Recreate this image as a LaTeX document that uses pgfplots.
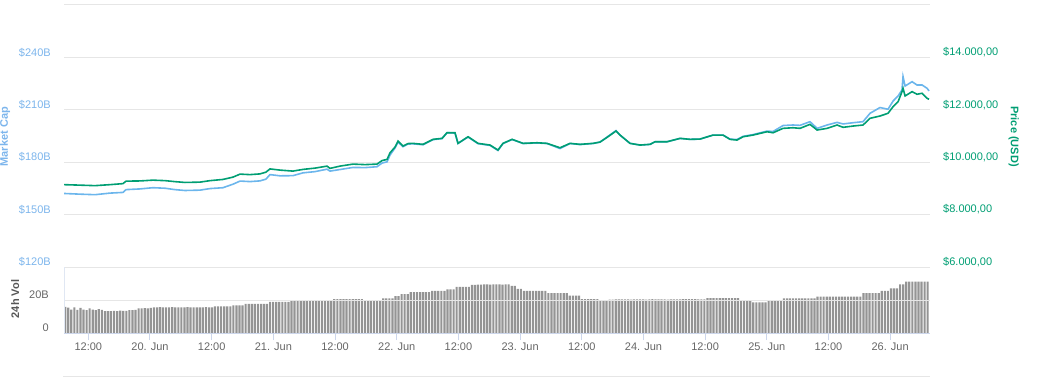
\documentclass[border=0pt]{standalone}
\usepackage{pgfplots}
\pgfplotsset{compat=1.18}
\usepackage{pgfplotstable}
\usepackage{fontspec}
\setmainfont{Liberation Sans}
\definecolor{mcblue}{HTML}{6CB6EC}
\definecolor{mclabel}{HTML}{7CB5EC}
\definecolor{pgreen}{HTML}{009E73}
\definecolor{gridc}{HTML}{E6E6E6}
\definecolor{tickc}{HTML}{CCD6EB}
\definecolor{labc}{HTML}{666666}
\definecolor{barc}{HTML}{949494}

\pgfplotstableread{
h m p
-16.74 162.1 9143
-13.62 161.7 9124
-10.70 161.4 9105
-7.78 162.3 9143
-5.26 162.7 9182
-4.66 164.3 9277
-1.94 164.7 9285
0.58 165.4 9315
2.92 165.1 9296
4.86 164.3 9258
6.80 163.8 9227
9.72 164.0 9239
11.68 164.9 9296
14.20 165.4 9342
16.14 167.4 9430
17.52 169.2 9545
19.46 168.9 9526
21.40 169.3 9553
22.56 170.3 9621
23.34 172.9 9744
25.30 172.2 9698
27.82 172.3 9660
29.76 173.9 9725
32.10 174.6 9774
34.44 176.0 9851
35.02 174.9 9763
36.96 175.8 9851
39.50 177.0 9927
41.84 176.9 9908
44.16 177.4 9927
45.14 179.5 10061
46.12 180.2 10107
46.70 184.1 10359
47.66 188.1 10577
48.26 191.5 10807
49.22 188.9 10616
50.20 190.4 10711
51.16 190.5 10719
53.12 190.0 10681
55.06 192.9 10872
56.82 193.5 10910
57.78 196.9 11124
59.34 196.7 11124
59.92 190.7 10719
60.90 192.6 10845
61.88 194.4 10971
63.82 190.6 10719
66.16 189.6 10654
67.70 186.7 10463
68.68 190.7 10719
70.44 193.0 10872
72.58 190.7 10719
75.30 191.0 10742
77.24 190.7 10719
79.76 187.8 10551
81.72 190.7 10719
83.66 190.1 10681
86.20 190.7 10719
87.56 191.5 10769
88.92 194.4 10948
90.66 198.1 11189
91.44 195.5 11036
93.38 190.8 10719
95.34 189.8 10654
97.28 190.2 10681
98.26 191.7 10780
100.58 191.7 10780
103.12 193.6 10910
105.06 193.1 10872
107.00 193.2 10883
109.54 195.5 11036
111.48 195.5 11036
112.84 193.2 10872
114.20 193.0 10845
115.38 194.8 10971
117.32 195.8 11036
120.04 197.8 11162
121.22 197.6 11124
123.16 201.0 11292
125.10 201.3 11315
126.46 201.1 11292
128.40 203.2 11445
129.78 199.4 11227
131.72 201.3 11292
133.66 202.8 11419
134.84 201.9 11331
136.78 202.6 11380
138.72 203.2 11419
140.08 208.0 11675
142.02 211.3 11763
143.58 210.3 11866
144.56 215.0 12118
145.54 217.9 12310
146.30 221.4 12692
146.50 229.0 12822
146.90 223.6 12528
148.26 226.1 12692
149.22 224.2 12593
150.20 224.2 12631
151.18 222.3 12440
151.56 220.8 12401
}\datalines

\pgfplotstableread[row sep=\\]{
v\\
15.9\\15.4\\14.2\\15.6\\14.0\\15.3\\14.1\\13.9\\15.0\\14.2\\13.9\\14.4\\
14.0\\13.3\\13.3\\13.3\\13.4\\13.3\\13.5\\13.4\\13.4\\
13.9\\13.9\\14.0\\
15.0\\15.0\\15.1\\15.0\\15.2\\
15.6\\15.6\\15.7\\15.6\\15.6\\15.6\\15.7\\15.6\\15.6\\15.6\\15.6\\15.7\\15.6\\15.6\\15.6\\15.6\\15.6\\15.7\\15.6\\15.6\\
16.2\\16.2\\16.2\\16.2\\16.2\\16.2\\
16.8\\16.8\\16.8\\16.8\\
17.6\\17.6\\17.6\\17.6\\17.6\\17.6\\17.6\\17.6\\
18.8\\18.8\\18.8\\18.8\\18.8\\18.8\\18.8\\
19.4\\19.4\\19.4\\19.4\\19.4\\19.4\\19.4\\19.4\\
20.0\\20.0\\20.0\\20.0\\20.0\\20.0\\
20.6\\20.6\\20.6\\20.6\\20.6\\20.6\\20.6\\20.6\\20.6\\20.6\\
19.6\\19.6\\19.6\\19.6\\19.6\\19.6\\
21.0\\21.0\\21.0\\21.0\\
22.4\\22.4\\
23.6\\23.6\\23.6\\
24.7\\24.7\\24.7\\24.7\\24.7\\24.7\\24.7\\
25.5\\25.5\\25.5\\25.5\\25.5\\
26.5\\26.5\\26.5\\
27.9\\27.9\\27.9\\27.9\\27.9\\
29.1\\29.1\\29.3\\29.3\\29.5\\29.5\\29.3\\29.5\\29.5\\29.5\\29.3\\29.5\\29.5\\
28.5\\28.5\\
26.7\\26.7\\
25.5\\25.5\\25.5\\25.5\\25.5\\25.5\\25.5\\25.5\\
24.1\\24.1\\24.1\\24.1\\24.1\\24.1\\24.1\\
22.6\\22.6\\22.6\\22.6\\
20.6\\20.6\\20.6\\20.6\\20.6\\20.6\\
19.6\\19.6\\19.6\\
20.2\\20.3\\20.4\\20.4\\20.4\\20.4\\20.4\\20.3\\20.4\\20.4\\20.4\\20.4\\20.3\\20.4\\20.5\\20.4\\
20.4\\20.4\\20.4\\20.3\\20.4\\20.4\\20.4\\20.4\\20.5\\20.6\\20.6\\20.6\\20.5\\20.4\\20.4\\20.4\\
21.2\\21.2\\21.2\\21.2\\21.2\\21.2\\21.2\\21.2\\21.2\\21.2\\21.2\\
19.4\\19.4\\19.4\\19.4\\
18.6\\18.6\\18.6\\18.6\\18.6\\
19.4\\19.4\\19.4\\19.4\\19.4\\
21.0\\21.0\\21.0\\21.0\\21.0\\21.0\\21.0\\21.0\\21.0\\21.0\\21.0\\
22.0\\22.0\\22.0\\22.0\\22.0\\22.0\\22.0\\22.0\\22.0\\22.0\\22.0\\22.0\\22.0\\22.0\\22.0\\
24.1\\24.1\\24.1\\24.1\\24.1\\24.1\\
25.6\\25.6\\25.6\\
27.1\\27.1\\27.1\\
29.5\\29.5\\
31.1\\31.1\\31.1\\31.1\\31.1\\31.1\\31.1\\31.1\\
}\voltable

\begin{document}
\begin{tikzpicture}[x=1bp,y=1bp,font=\fontsize{11bp}{13bp}\selectfont]
\useasboundingbox (0,0) rectangle (1043,377);
\pgfplotsset{base/.style={scale only axis, width=866bp, xmin=-16.73, xmax=151.75,
  anchor=south west, grid style={gridc, line width=1bp},
  every tick label/.append style={font=\fontsize{11bp}{13bp}\selectfont}}}

% Market cap axis
\begin{axis}[base, at={(64bp,110bp)}, height=262bp,
  ymin=120, ymax=270, ytick={120,150,180,210,240,270},
  yticklabels={\$120B,\$150B,\$180B,\$210B,\$240B,},
  ymajorgrids, xtick=\empty, axis line style={draw=none}, major tick length=0pt,
  yticklabel style={text=mclabel, anchor=east, inner sep=0pt, xshift=-13bp, yshift=5bp}]
\addplot[mcblue, line width=1.6bp] table[x=h, y=m] {\datalines};
\end{axis}

% Volume axis
\begin{axis}[base, at={(64bp,44bp)}, height=66bp,
  ymin=0, ymax=40, ytick={0,20,40}, yticklabels={0,20B,},
  ymajorgrids, axis x line*=bottom, axis y line*=left,
  x axis line style={tickc, line width=1bp},
  y axis line style={tickc!60, line width=1bp},
  ytick style={draw=none},
  xtick={-12,0,12,24,36,48,60,72,84,96,108,120,132,144},
  xticklabels={12:00,20. Jun,12:00,21. Jun,12:00,22. Jun,12:00,23. Jun,12:00,24. Jun,12:00,25. Jun,12:00,26. Jun},
  xtick style={tickc, line width=1bp}, tick align=outside, major tick length=7bp,
  xticklabel style={text=labc, inner sep=0pt, yshift=-3bp},
  yticklabel style={text=labc, anchor=east, inner sep=0pt, xshift=-8bp, yshift=5bp},
  axis on top]
\addplot[ybar, bar width=0.42, bar shift=0pt, fill=barc, draw=none]
  table[x expr=\coordindex*0.595-16.5, y=v] {\voltable};
\end{axis}

% Price axis
\begin{axis}[base, at={(64bp,110bp)}, height=262bp,
  ymin=6000, ymax=16000, ytick={6000,8000,10000,12000,14000},
  yticklabels={{\$6.000,00},{\$8.000,00},{\$10.000,00},{\$12.000,00},{\$14.000,00}},
  axis y line*=right, axis x line=none, xtick=\empty,
  y axis line style={draw=none}, major tick length=0pt,
  yticklabel style={text=pgreen, anchor=west, inner sep=0pt, xshift=13bp, yshift=5bp}]
\addplot[pgreen, line width=1.6bp] table[x=h, y=p] {\datalines};
\end{axis}

\node[rotate=90, text=mclabel, font=\fontsize{11bp}{13bp}\selectfont\bfseries] at (5,240.3) {Market Cap};
\node[rotate=90, text=labc!85!black, font=\fontsize{11bp}{13bp}\selectfont\bfseries] at (15.3,78) {24h Vol};
\node[rotate=-90, text=pgreen, font=\fontsize{11bp}{13bp}\selectfont\bfseries] at (1013.8,240.5) {Price (USD)};
\draw[gridc, line width=1bp] (63,1) -- (930,1);
\end{tikzpicture}
\end{document}
